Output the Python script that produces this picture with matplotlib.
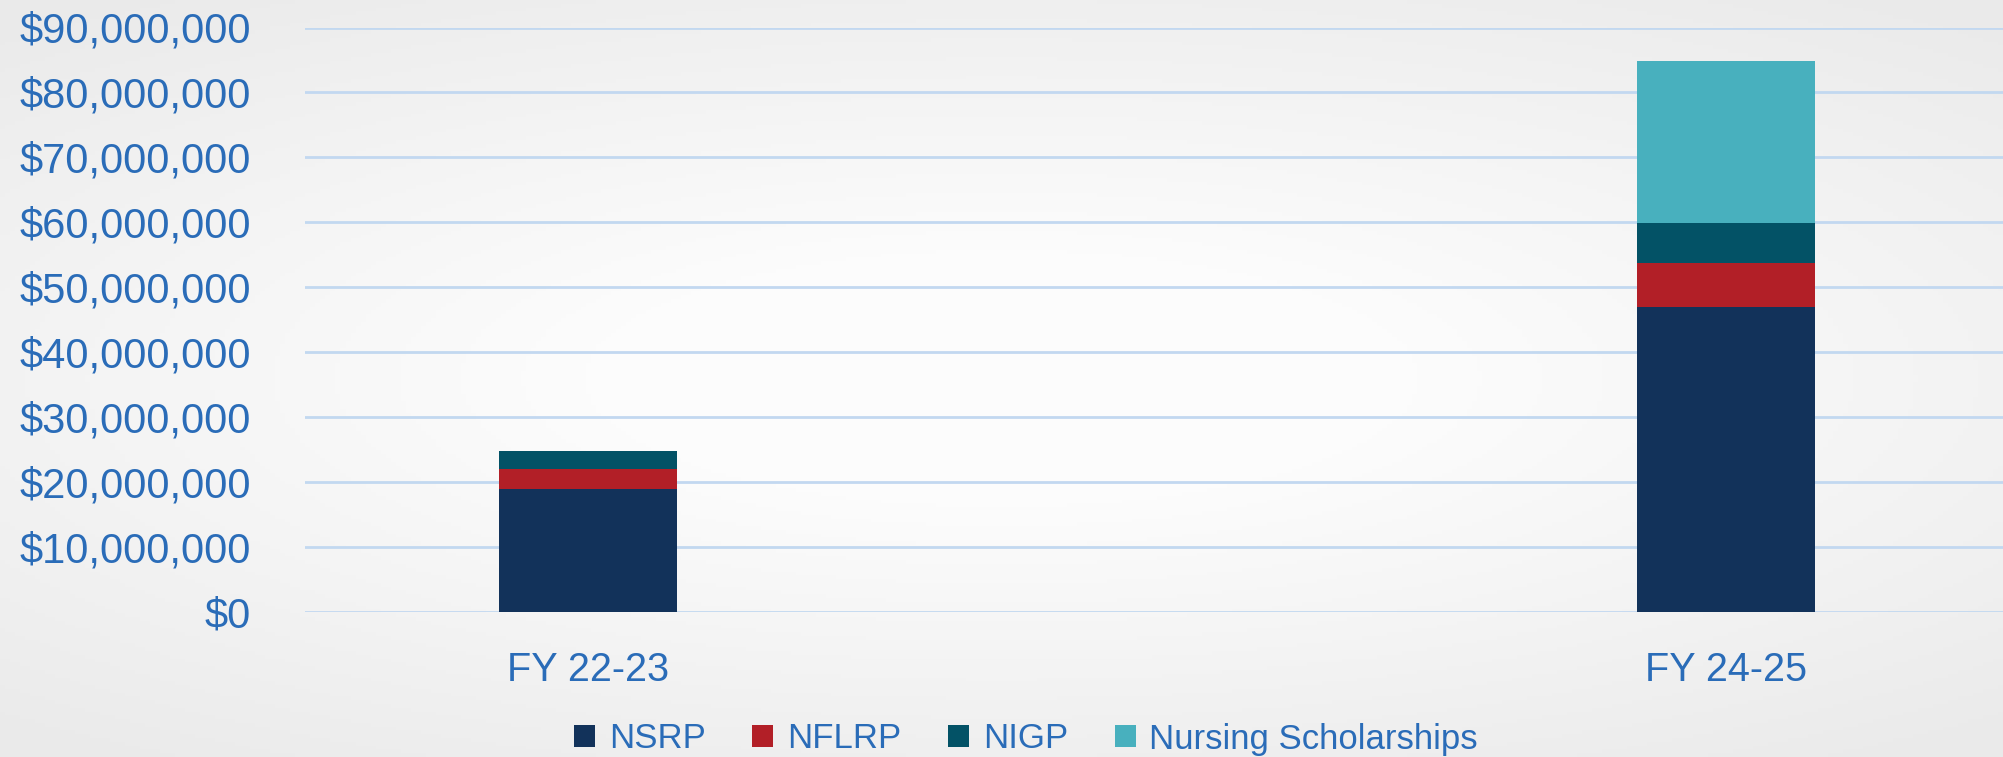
import matplotlib
matplotlib.use("Agg")
import matplotlib.pyplot as plt
from matplotlib.ticker import FuncFormatter
import numpy as np

years = ["FY 22-23", "FY 24-25"]
nsrp = [18.9e6, 47.0e6]
nflrp = [3.1e6, 6.7e6]
nigp = [2.8e6, 6.2e6]
scholarships = [0.0, 25.0e6]

series_names = ["NSRP", "NFLRP", "NIGP", "Nursing Scholarships"]
colors = ["#12325A", "#B21F27", "#035266", "#48B0BE"]
txt_blue = "#2A6CB8"

plt.rcParams["font.family"] = ["Liberation Sans", "DejaVu Sans"]

fig = plt.figure(figsize=(20.03, 7.57), dpi=100)

# soft grey background, lighter in the middle
yy, xx = np.mgrid[-1:1:200j, -1:1:400j]
shade = 0.99 - 0.07 * np.clip(np.sqrt((xx * 0.9) ** 2 + (yy * 1.1) ** 2) - 0.35, 0, 1)
bg = fig.add_axes([0, 0, 1, 1], zorder=-10)
bg.imshow(np.dstack([shade, shade, shade]), aspect="auto", extent=[0, 1, 0, 1])
bg.axis("off")

ax = fig.add_axes([305 / 2003, 1 - 611.8 / 757, (2003 - 305) / 2003, (611.8 - 27.5) / 757])
ax.patch.set_alpha(0)

x = np.arange(len(years))
w = 0.156
bottom = np.zeros(len(years))
for vals, name, c in zip([nsrp, nflrp, nigp, scholarships], series_names, colors):
    ax.bar(x, vals, width=w, bottom=bottom, color=c, label=name, zorder=3)
    bottom += np.array(vals)

ax.set_ylim(0, 90e6)
ax.set_yticks(np.arange(0, 90e6 + 1, 10e6))
ax.set_xlim(-0.2487, 1.2434)
ax.set_xticks(x)
ax.set_xticklabels(years)
ax.yaxis.set_major_formatter(FuncFormatter(lambda v, p: "${:,.0f}".format(v)))
ax.grid(axis="y", color="#C2D8F0", linewidth=2, zorder=0)
for s in ax.spines.values():
    s.set_visible(False)
ax.tick_params(axis="both", length=0, colors=txt_blue)
ax.tick_params(axis="y", labelsize=30, pad=39)
ax.tick_params(axis="x", labelsize=28.5, pad=28)

fig.legend(loc="center", bbox_to_anchor=(1026 / 2003, 1 - 739 / 757), ncol=4,
           frameon=False, fontsize=25, labelcolor=txt_blue, handlelength=0.6,
           handleheight=0.6, handletextpad=0.4, columnspacing=1.35)

fig.savefig("out.png", dpi=100)
